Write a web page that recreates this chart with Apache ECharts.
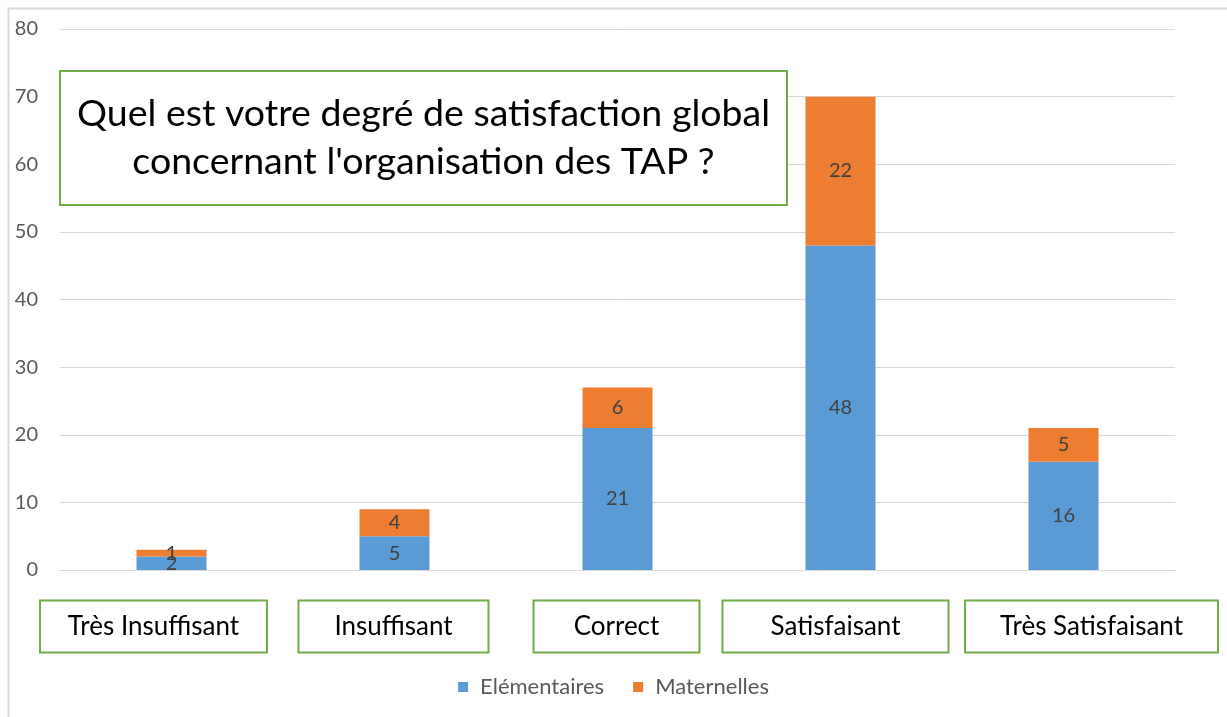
<!DOCTYPE html>
<html>
<head>
<meta charset="utf-8">
<script src="https://cdn.jsdelivr.net/npm/echarts@6/dist/echarts.min.js"></script>
<style>
  html, body { margin: 0; padding: 0; background: #fff; }
  #main { width: 1227px; height: 717px; }
</style>
</head>
<body>
<div id="main"></div>
<script>
// data
const categories = ["Très Insuffisant", "Insuffisant", "Correct", "Satisfaisant", "Très Satisfaisant"];
const elementaires = [2, 5, 21, 48, 16];
const maternelles = [1, 4, 6, 22, 5];
const yTicks = [0, 10, 20, 30, 40, 50, 60, 70, 80];
const titleLines = ["Quel est votre degré de satisfaction global", "concernant l'organisation des TAP ?"];

// green boxes round the category labels: width and shift from the bar centre
const boxWidths = [229, 192, 168, 228, 255];
const boxShifts = [-18, -1, -1, -5, 28];

var myChart = echarts.init(document.getElementById("main"));

var font = "Lato, 'Open Sans', sans-serif";

// one rich style per label so each box can have its own width
var rich = {};
boxWidths.forEach(function (w, i) {
  rich["b" + i] = {
    width: w - 4,
    fontSize: 26,
    lineHeight: 27,
    color: "#000",
    align: "center",
    padding: [12, 0, 12, 0],
    borderColor: "#70ad47",
    borderWidth: 2,
    backgroundColor: "#fff",
    fontFamily: font
  };
  rich["s" + i] = { width: Math.abs(boxShifts[i]) * 2, fontSize: 10 };
});

var option = {
  animation: false,
  textStyle: { fontFamily: font },
  grid: { left: 60, right: 52, top: 29, bottom: 147, containLabel: false },
  graphic: [
    {
      // outer frame of the chart area
      type: "rect",
      shape: { x: 8.5, y: 8.5, width: 1300, height: 800 },
      style: { fill: "none", stroke: "#d9d9d9", lineWidth: 2 },
      silent: true
    },
    {
      type: "rect",
      shape: { x: 60, y: 71, width: 727, height: 134 },
      style: { fill: "#fff", stroke: "#70ad47", lineWidth: 2 },
      z: 10
    },
    {
      type: "text",
      x: 423.5,
      y: 90,
      z: 11,
      style: {
        text: titleLines.join("\n"),
        align: "center",
        verticalAlign: "top",
        fontSize: 37.5,
        lineHeight: 48,
        fill: "#000",
        fontFamily: font
      }
    }
  ],
  legend: {
    bottom: 14,
    left: "center",
    itemWidth: 10,
    itemHeight: 10,
    itemGap: 29,
    icon: "rect",
    textStyle: { fontSize: 22, color: "#595959", fontFamily: font, padding: [0, 0, 0, 7] },
    data: ["Elémentaires", "Maternelles"]
  },
  xAxis: {
    type: "category",
    data: categories,
    axisLine: { lineStyle: { color: "#d9d9d9", width: 1 } },
    axisTick: { show: false },
    axisLabel: {
      interval: 0,
      margin: 43,
      rich: rich,
      formatter: function (value, i) {
        var box = "{b" + i + "|" + value + "}";
        var sp = "{s" + i + "|}";
        if (boxShifts[i] >= 0) return sp + box;
        return box + sp;
      }
    }
  },
  yAxis: {
    type: "value",
    min: yTicks[0],
    max: yTicks[yTicks.length - 1],
    interval: yTicks[1] - yTicks[0],
    axisLine: { show: false },
    axisTick: { show: false },
    axisLabel: { fontSize: 20, color: "#595959", margin: 22 },
    splitLine: { lineStyle: { color: "#d9d9d9", width: 1 } }
  },
  series: [
    {
      name: "Elémentaires",
      type: "bar",
      stack: "total",
      barWidth: 70,
      itemStyle: { color: "#5b9bd5" },
      label: { show: true, position: "inside", fontSize: 20, color: "#404040" },
      data: elementaires
    },
    {
      name: "Maternelles",
      type: "bar",
      stack: "total",
      barWidth: 70,
      itemStyle: { color: "#ed7d31" },
      label: { show: true, position: "inside", fontSize: 20, color: "#404040" },
      data: maternelles
    }
  ]
};
myChart.setOption(option);
</script>
</body>
</html>
